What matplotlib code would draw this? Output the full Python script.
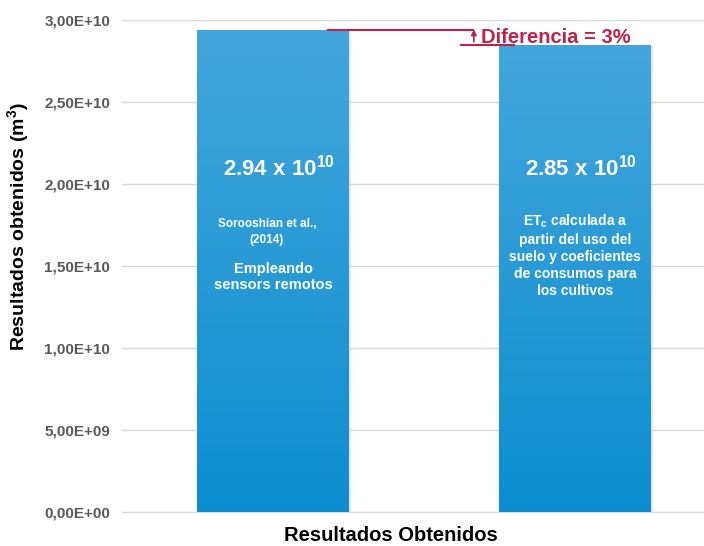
import numpy as np
import matplotlib
matplotlib.use('Agg')
import matplotlib.pyplot as plt
from matplotlib.colors import LinearSegmentedColormap
from matplotlib.ticker import FuncFormatter

plt.rcParams['font.family'] = ['Liberation Sans', 'DejaVu Sans']
plt.rcParams['mathtext.fontset'] = 'custom'
plt.rcParams['mathtext.rm'] = 'Liberation Sans'
plt.rcParams['mathtext.bf'] = 'Liberation Sans:bold'
plt.rcParams['mathtext.it'] = 'Liberation Sans:italic'

# datos
categorias = ['Sorooshian', 'ETc']
valores = [2.94e10, 2.85e10]
etiquetas_valor = ['2.94 x 10$^{\\mathbf{10}}$', '2.85 x 10$^{\\mathbf{10}}$']
textos_fuente = ['Sorooshian et al.,\n(2014)', 'ET$_{\\mathbf{c}}$ calculada a\npartir del uso del\nsuelo y coeficientes\nde consumos para\nlos cultivos']
textos_metodo = ['Empleando\nsensors remotos', '']
yticks = np.arange(0, 3.01e10, 5e9)

fig = plt.figure(figsize=(7.04, 5.46), dpi=100)
ax = fig.add_axes([0.1733, 0.0623, 0.8267, 0.9011])

x = np.arange(len(categorias))
ancho = 0.503
barras = ax.bar(x, valores, width=ancho, color='none', zorder=3)

# degradado azul dentro de cada barra
cmap = LinearSegmentedColormap.from_list('azul', ['#0b8ecf', '#44a6dc'])
grad = np.linspace(0, 1, 256).reshape(-1, 1)
for b in barras:
    x0, w, h = b.get_x(), b.get_width(), b.get_height()
    # sombra leve a la derecha
    ax.bar(x0 + w / 2 + 0.008, h, width=w, color='#d0d0d0', alpha=0.5, zorder=2)
    im = ax.imshow(grad, cmap=cmap, origin='lower', aspect='auto',
                   extent=[x0, x0 + w, 0, h], zorder=3)
    im.set_clip_path(b)

ax.set_xlim(-0.5, 1.427)
ax.set_ylim(0, 3e10)
ax.set_yticks(yticks)
ax.yaxis.set_major_formatter(FuncFormatter(lambda v, p: f'{v:.2E}'.replace('.', ',')))
ax.tick_params(axis='y', length=0, pad=8.5, labelsize=11, labelcolor='#595959')
for t in ax.get_yticklabels():
    t.set_fontweight('bold')
ax.set_xticks([])
ax.grid(axis='y', color='#d9d9d9', linewidth=1, zorder=0)
ax.set_axisbelow(True)
for s in ['top', 'right', 'left']:
    ax.spines[s].set_visible(False)
ax.spines['bottom'].set_color('#d9d9d9')

ax.set_ylabel('Resultados obtenidos (m$^{\\mathbf{3}}$)', fontsize=14, fontweight='bold')
ax.yaxis.set_label_coords(-0.157, 0.58)
ax.set_xlabel('Resultados Obtenidos', fontsize=14.5, fontweight='bold')
ax.xaxis.set_label_coords(0.462, -0.028)

# textos dentro de las barras
for i in range(len(categorias)):
    ax.text(x[i] + 0.02, 2.1e10, etiquetas_valor[i], color='white', fontsize=16,
            fontweight='bold', ha='center', va='center', zorder=5)
texto_kw = dict(color='white', fontweight='bold', ha='center', zorder=5)
ax.text(x[0] - 0.02, 1.793e10, textos_fuente[0], fontsize=8.5, va='top', linespacing=1.5, **texto_kw)
ax.text(x[0], 1.524e10, textos_metodo[0], fontsize=10.5, va='top', linespacing=1.2, **texto_kw)
ax.text(x[1], 1.823e10, textos_fuente[1], fontsize=10, va='top', linespacing=1.27, **texto_kw)

# anotacion de diferencia
rojo = '#c0224a'
ax.hlines(valores[0], x[0] + 0.18, x[1] - 0.335, color=rojo, linewidth=1.5, zorder=6)
ax.hlines(valores[1], x[1] - 0.38, x[1] - 0.2, color=rojo, linewidth=1.5, zorder=6)
ax.annotate('', xy=(x[1] - 0.335, valores[0] + 0.02e10), xytext=(x[1] - 0.335, valores[1]),
            arrowprops=dict(arrowstyle='-|>', color=rojo, lw=1.2, mutation_scale=8), zorder=6)
ax.text(x[1] - 0.31, (valores[0] + valores[1]) / 2, 'Diferencia = 3%', color=rojo,
        fontsize=14.5, fontweight='bold', ha='left', va='center', zorder=6)

fig.savefig('out.png', dpi=100)
